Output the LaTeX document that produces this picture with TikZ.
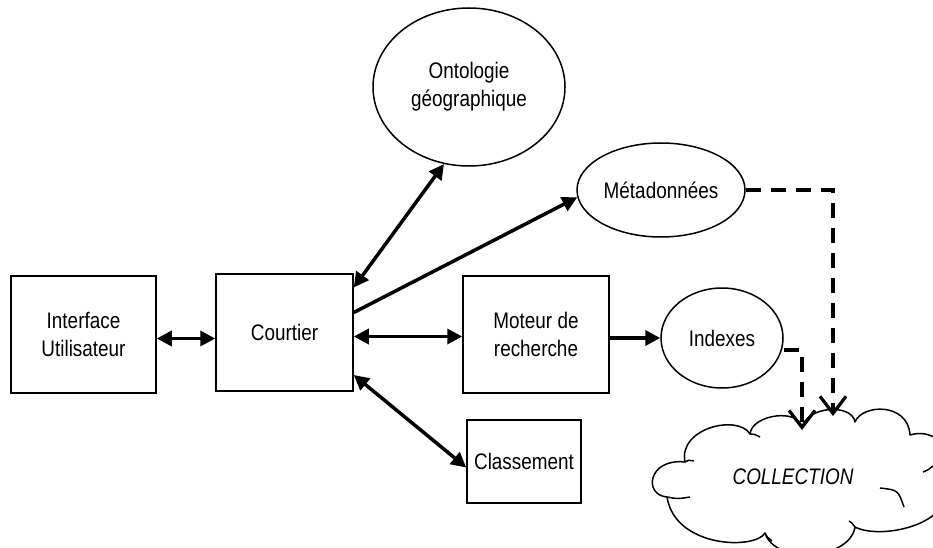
\documentclass[tikz,border=0pt]{standalone}
\usepackage{fontspec}
\setmainfont{Liberation Sans}[FakeStretch=0.84]
\usetikzlibrary{arrows.meta,shapes.geometric}
\begin{document}
\begin{tikzpicture}[x=1pt,y=-1pt,
  every node/.style={font=\fontsize{22.5}{28}\selectfont, align=center},
  boxnode/.style={draw, line width=1.5pt, rectangle, inner sep=0pt},
  ellnode/.style={draw, line width=1.5pt, ellipse, inner sep=0pt},
  cloudline/.style={draw, line width=1.5pt, line join=round},
  link/.style={line width=3.5pt, {Triangle[length=15pt,width=15pt]}-{Triangle[length=15pt,width=15pt]}},
  onelink/.style={line width=3.5pt, -{Triangle[length=15pt,width=15pt]}},
  dashlink/.style={line width=4.5pt, dash pattern=on 15pt off 10pt, -{Straight Barb[length=17pt,width=26pt,line width=3.2pt]}}
]
\useasboundingbox (0,0) rectangle (933,548);
\clip (0,0) rectangle (933,548);
\fill[white] (0,0) rectangle (933,548);

\node[boxnode, minimum width=145pt, minimum height=117pt] (ui) at (83.5,334.5) {Interface\\Utilisateur};
\node[boxnode, minimum width=137pt, minimum height=117pt] (court) at (284.5,332.5) {Courtier};
\node[ellnode, minimum width=192pt, minimum height=158pt] (onto) at (469,87) {Ontologie\\g\'eographique};
\node[ellnode, minimum width=168pt, minimum height=94pt] (meta) at (661,190) {M\'etadonn\'ees};
\node[boxnode, minimum width=146pt, minimum height=117pt] (moteur) at (536,334.5) {Moteur de\\recherche};
\node[ellnode, minimum width=122pt, minimum height=100pt] (idx) at (722,338) {Indexes};
\node[boxnode, minimum width=114pt, minimum height=83pt] (class) at (524,461.5) {Classement};

% cloud outline
\path[cloudline, fill=white] (685,462)
  .. controls (678,428) and (738,414) .. (750,434)
  .. controls (752,414) and (800,408) .. (802,428)
  .. controls (806,406) and (852,403) .. (855,422)
  .. controls (862,404) and (908,402) .. (910,435)
  .. controls (945,425) and (965,470) .. (945,490)
  .. controls (950,525) and (880,540) .. (855,527)
  .. controls (850,560) and (775,565) .. (765,533)
  .. controls (755,550) and (675,548) .. (667,497)
  .. controls (643,495) and (648,458) .. (685,462) -- cycle;
\draw[cloudline] (685,462) .. controls (688,460) .. (694,461);
\draw[cloudline] (750,434) .. controls (754,434) .. (760,437);
\draw[cloudline] (880,488) .. controls (898,490) .. (904,507);
\draw[cloudline] (923,472) .. controls (928,470) .. (933,466);
\draw[cloudline] (667,497) .. controls (678,499) .. (690,497);
\draw[cloudline] (765,533) .. controls (767,537) .. (772,541);
\draw[cloudline] (855,527) .. controls (852,523) .. (849,521);
\node[font=\fontsize{22.5}{28}\selectfont\itshape] (coll) at (793,477) {COLLECTION};

\coordinate (c1) at (833,416);
\coordinate (c2) at (802,430);

\draw[link] ([yshift=-4pt]ui.east) -- ([yshift=-4pt]ui.east -| court.west);
\draw[link] ([yshift=45pt]court.east) -- (onto.252);
\draw[onelink] ([yshift=20pt]court.east) -- (meta.185);
\draw[link] ([yshift=-4pt]court.east) -- ([yshift=-4pt]court.east -| moteur.west);
\draw[onelink] (moteur.east |- idx.west) -- (idx.west);
\draw[link] ([yshift=-42.5pt]court.east) -- ([yshift=-6pt]class.west);

\draw[dashlink] (meta.east) -| (c1);
\draw[dashlink] ([yshift=-12pt]idx.east) -| (c2);
\end{tikzpicture}
\end{document}
